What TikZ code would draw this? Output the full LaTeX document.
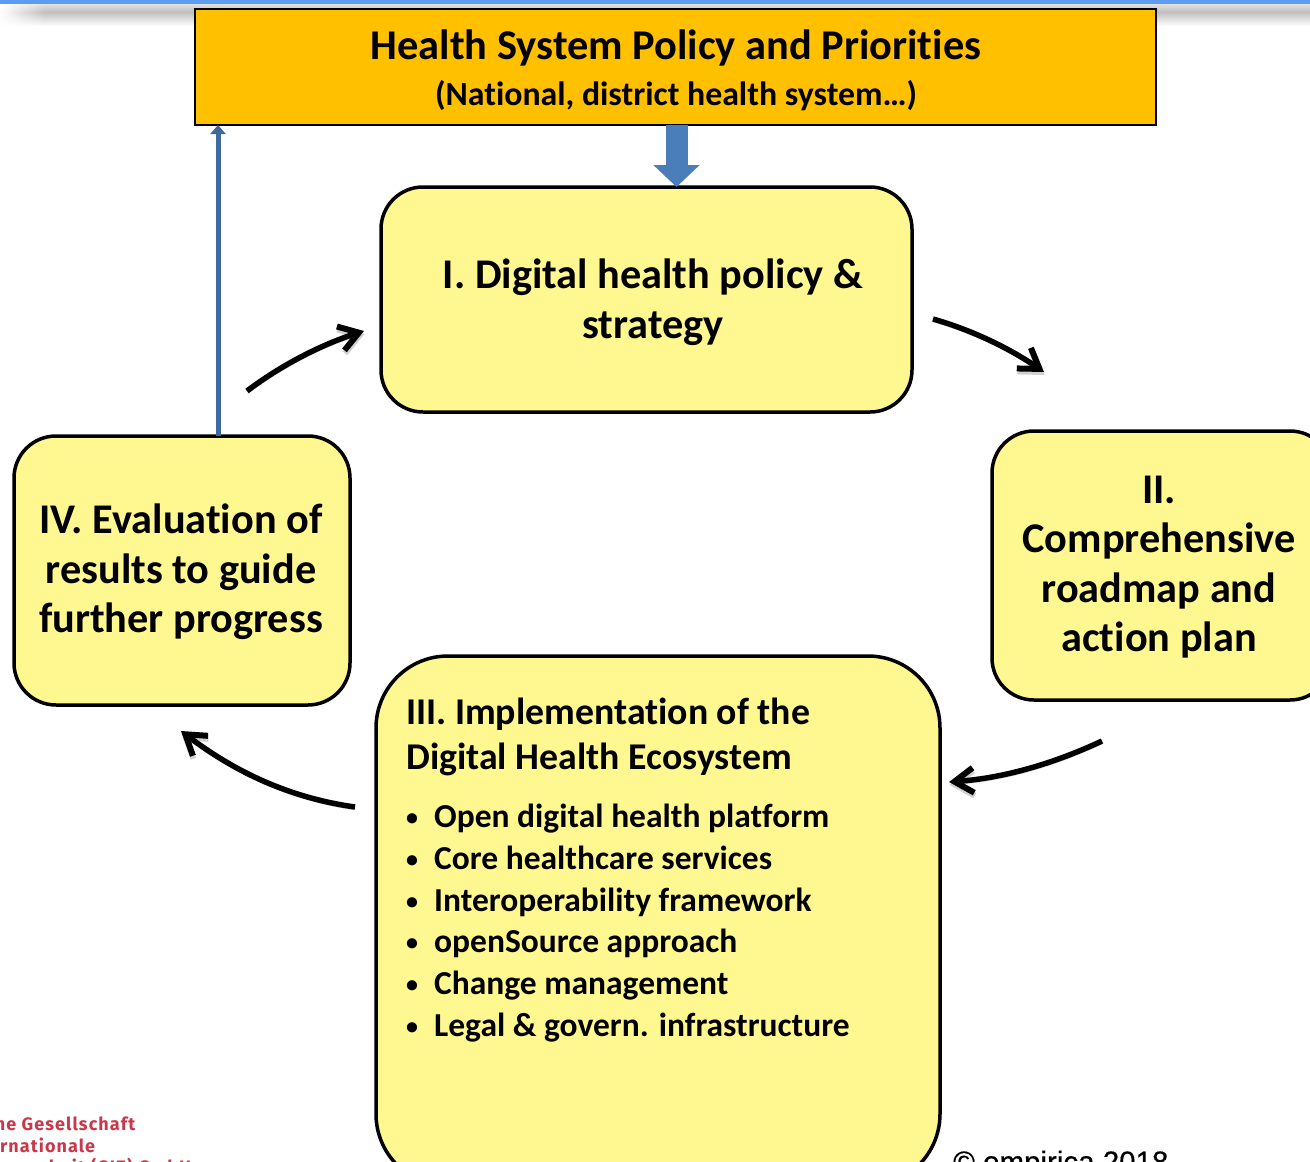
\documentclass[tikz,border=0pt]{standalone}
\usepackage{fontspec}
\usetikzlibrary{arrows.meta,fadings,calc}
\setmainfont[Ligatures=CommonOff]{Carlito}
\newfontfamily\arialfont[FakeBold=0.5]{Liberation Sans}
\newfontfamily\gizfont[LetterSpace=6]{Fira Sans}
\definecolor{boxyellow}{HTML}{FFF78F}
\definecolor{topamber}{HTML}{FFC000}
\definecolor{bluebig}{HTML}{4A7EBB}
\definecolor{bluethin}{HTML}{3F689C}
\definecolor{topbar}{HTML}{5B9CF0}
\definecolor{gizred}{HTML}{C8384A}
\tikzset{
  yellowbox/.style={draw=black,line width=3.5pt,fill=boxyellow,rounded corners=#1,inner sep=0pt,outer sep=0pt},
  boxtext/.style={font=\bfseries\fontsize{42.3}{49.5}\selectfont,align=center,text=black,inner sep=0pt},
  flowarrow/.style={draw=black,line width=5.5pt,-{Straight Barb[length=19pt,width=25pt,line width=6pt]},
    preaction={draw=black!18,transform canvas={xshift=0.5pt,yshift=-3pt}}},
}
\newcommand{\bul}[1]{\makebox[28pt][l]{\raisebox{2pt}{\fontsize{24}{24}\selectfont •}}#1}
\begin{document}
\begin{tikzpicture}[x=1pt,y=-1pt]
\useasboundingbox (0,0) rectangle (1310,1162);
\clip (0,0) rectangle (1310,1162);
% window chrome
\fill[white] (0,0) rectangle (1310,1162);
\shade[top color=black!10,bottom color=black!25] (0,3) rectangle (1310,12);
\shade[top color=black!25,bottom color=white] (0,12) rectangle (1310,26);
\fill[white,path fading=east] (0,3) rectangle (45,26);
\fill[topbar] (0,0) rectangle (1310,3.5);
% boxes
\node[draw=black,line width=1.6pt,fill=topamber,minimum width=961pt,minimum height=116pt,anchor=north west,inner sep=0pt,outer sep=0pt] (top) at (195,9) {};
\node[yellowbox=42pt,minimum width=531pt,minimum height=225pt,anchor=north west] (b1) at (381,187) {};
\node[yellowbox=42pt,minimum width=340pt,minimum height=269pt,anchor=north west] (b2) at (992,431) {};
\node[yellowbox=72pt,minimum width=564pt,minimum height=530pt,anchor=north west] (b3) at (376,656) {};
\node[yellowbox=42pt,minimum width=336pt,minimum height=269pt,anchor=north west] (b4) at (14,436) {};
% texts
\node[font=\bfseries\fontsize{42.4}{44}\selectfont,inner sep=0pt,anchor=base] (t1) at (676,59) {Health System Policy and Priorities};
\node[font=\bfseries\fontsize{33.8}{40}\selectfont,inner sep=0pt,anchor=base] (t2) at (676,105) {(National, district health system…)};
\node[boxtext] (l1) at (653,302) {I. Digital health policy \&\\strategy};
\node[boxtext] (l2) at (1159,567) {II.\\Comprehensive\\roadmap and\\action plan};
\node[boxtext] (l4) at (181,572) {IV. Evaluation of\\results to guide\\further progress};
\node[font=\bfseries\fontsize{37.8}{44.5}\selectfont,align=left,inner sep=0pt,anchor=north west] (l3) at (406,698) {III. Implementation of the\\Digital Health Ecosystem};
\node[font=\bfseries\fontsize{33.5}{41.7}\selectfont,align=left,inner sep=0pt,anchor=north west] (l3b) at (406,804) {\bul{Open digital health platform}\\\bul{Core healthcare services}\\\bul{Interoperability framework}\\\bul{openSource approach}\\\bul{Change management}\\\bul{Legal \& govern. infrastructure}};
% blue connectors
\draw[bluebig,line width=22pt,-{Triangle[length=22pt,width=45pt]}] (top.south -| b1.north) ++(30,0) -- ($(b1.north)+(30,0)$);
\draw[bluethin,line width=5pt,-{Triangle[length=9pt,width=15pt]}] ($(b4.north)+(36,0)$) -- ($(b4.north |- top.south)+(36,0)$);
% cycle arrows
\coordinate (a1s) at (933,319); \coordinate (a1e) at (1044,372);
\coordinate (a2s) at (1102,741); \coordinate (a2e) at (949,782);
\coordinate (a3s) at (355,807); \coordinate (a3e) at (181,731);
\coordinate (a4s) at (247,391); \coordinate (a4e) at (364,331);
\draw[flowarrow] (a1s) .. controls (975,331) and (1012,350) .. (a1e);
\draw[flowarrow] (a2s) .. controls (1055,763) and (1005,778) .. (a2e);
\draw[flowarrow] (a3s) .. controls (290,798) and (235,772) .. (a3e);
\draw[flowarrow] (a4s) .. controls (280,366) and (320,345) .. (a4e);
% footers
\node[font=\arialfont\fontsize{29.5}{30}\selectfont,anchor=base west,inner sep=0pt] (c) at (953,1172) {© empirica 2018};
\node[font=\gizfont\bfseries\fontsize{18}{21.5}\selectfont,text=gizred,align=left,anchor=north west,inner sep=0pt] (g) at (-68,1117) {Deutsche Gesellschaft\\für Internationale\\Zusammenarbeit (GIZ) GmbH};
\end{tikzpicture}
\end{document}
